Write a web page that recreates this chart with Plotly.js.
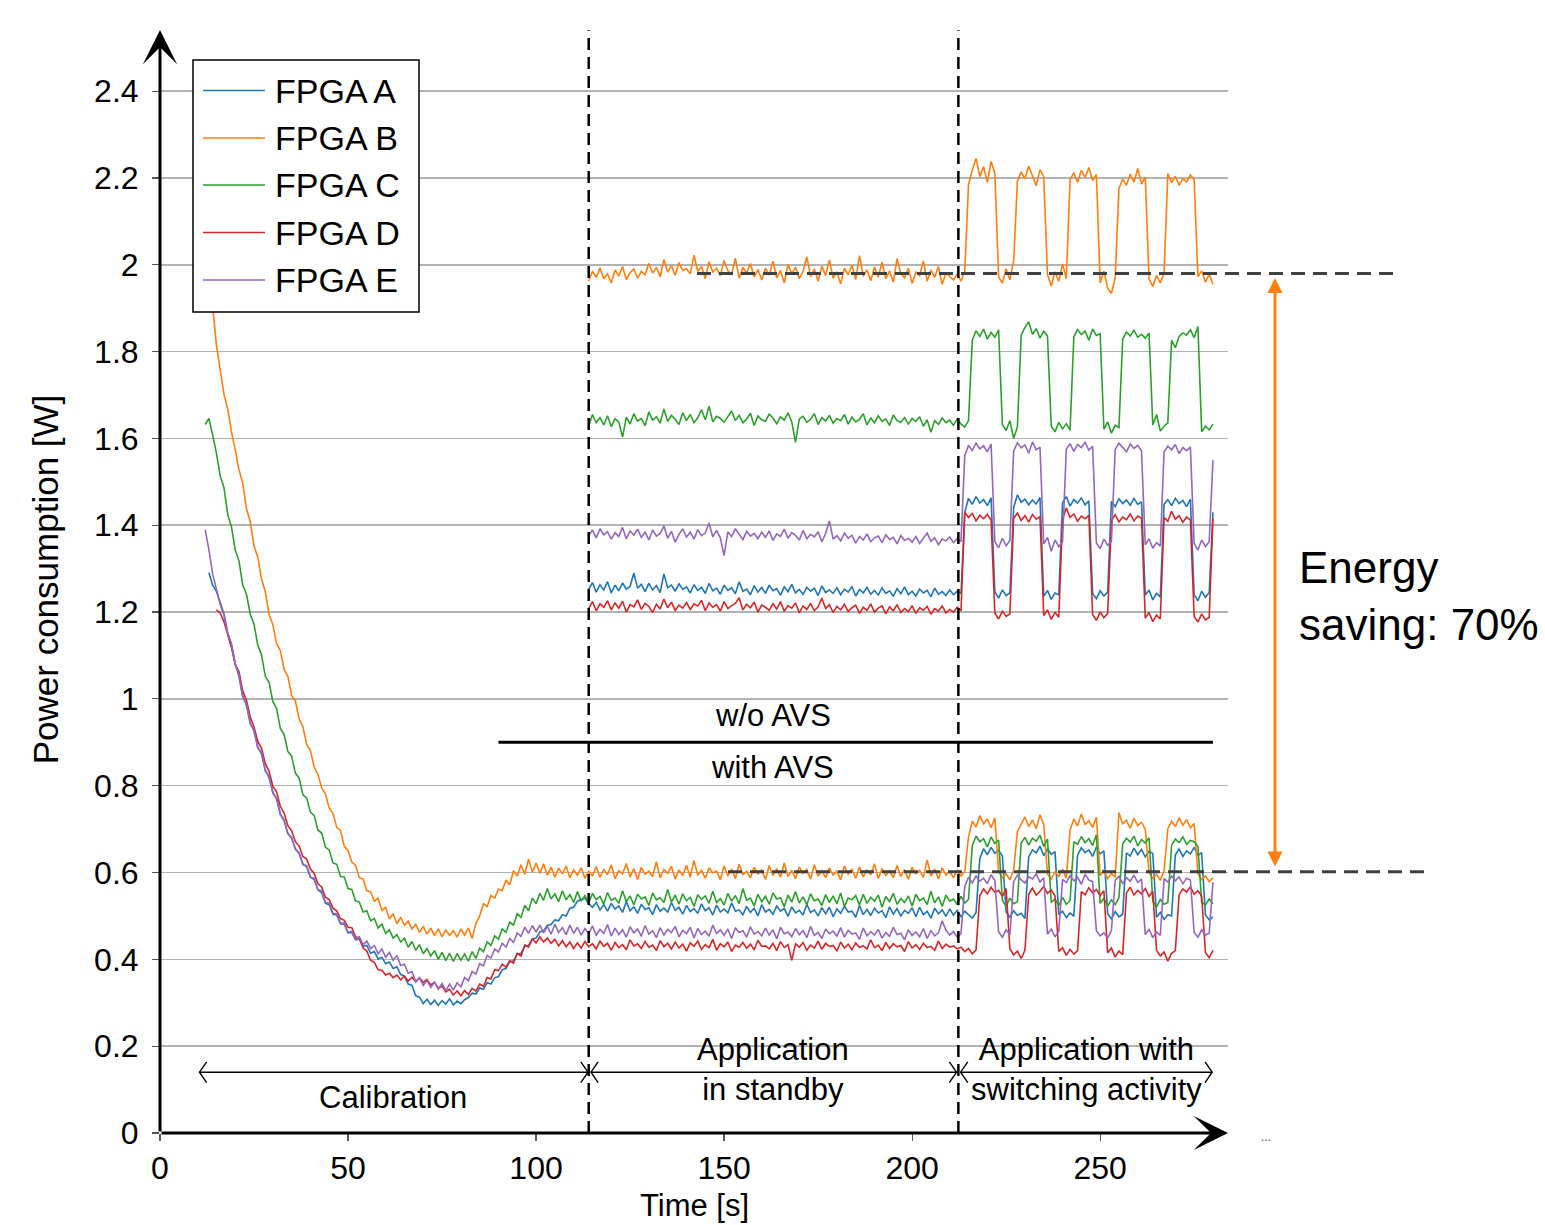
<!DOCTYPE html>
<html><head><meta charset="utf-8">
<script src="https://cdn.plot.ly/plotly-3.0.1.min.js"></script>
<style>html,body{margin:0;padding:0;background:#fff}</style>
</head><body>
<div id="chart" style="width:1545px;height:1225px"></div>
<script>
// ---------------- DATA ----------------
const seriesNames = ['FPGA A', 'FPGA B', 'FPGA C', 'FPGA D', 'FPGA E'];
const seriesColors = ['#1f77b4', '#ff7f0e', '#2ca02c', '#d62728', '#9467bd'];
// first time stamp [s] of each "with AVS" record (1 s sampling)
const withAvsStart = [13, 12, 12, 15, 12];
// first time stamp [s] of the "w/o AVS" records (1 s sampling)
const withoutAvsStart = 114;

const withAvsA = [1.291,1.262,1.248,1.221,1.196,1.152,1.124,1.081,
1.052,1.006,0.985,0.944,0.926,0.889,0.873,0.836,0.818,0.786,
0.769,0.735,0.719,0.69,0.679,0.655,0.644,0.62,0.613,0.59,
0.584,0.56,0.553,0.529,0.526,0.504,0.502,0.482,0.481,0.461,
0.462,0.445,0.447,0.43,0.432,0.414,0.418,0.401,0.405,0.39,
0.394,0.379,0.383,0.365,0.362,0.343,0.34,0.316,0.313,0.298,
0.308,0.296,0.306,0.294,0.305,0.297,0.309,0.295,0.304,0.298,
0.307,0.312,0.322,0.32,0.334,0.331,0.346,0.343,0.358,0.36,
0.376,0.379,0.394,0.397,0.412,0.414,0.43,0.432,0.447,0.449,
0.463,0.466,0.478,0.48,0.491,0.489,0.503,0.5,0.518,0.52,
0.534,0.538,0.541,0.528,0.52,0.531,0.514,0.526,0.511,0.529,
0.516,0.523,0.508,0.533,0.512,0.521,0.506,0.527,0.515,0.519,
0.503,0.526,0.511,0.518,0.509,0.531,0.513,0.52,0.504,0.524,
0.51,0.517,0.506,0.528,0.512,0.519,0.502,0.525,0.509,0.516,
0.507,0.53,0.511,0.514,0.503,0.522,0.508,0.518,0.5,0.526,
0.509,0.515,0.504,0.523,0.511,0.517,0.499,0.521,0.507,0.513,
0.502,0.527,0.508,0.514,0.5,0.519,0.505,0.52,0.498,0.516,
0.506,0.522,0.509,0.511,0.497,0.524,0.503,0.515,0.501,0.518,
0.507,0.512,0.496,0.521,0.504,0.517,0.5,0.513,0.506,0.519,
0.498,0.52,0.503,0.511,0.495,0.518,0.505,0.514,0.499,0.516,
0.502,0.513,
0.498,0.511,0.504,0.495,0.508,
0.632,0.655,0.641,0.658,0.644,0.651,0.638,
0.509,0.497,0.512,0.501,0.506,0.494,
0.636,0.652,0.645,0.661,0.639,0.654,0.642,0.648,
0.503,0.511,0.496,0.507,0.499,
0.64,0.657,0.646,0.652,0.637,0.659,0.643,0.65,
0.505,0.493,0.51,0.498,0.504,
0.645,0.638,0.656,0.641,0.653,0.636,0.649,0.644,
0.497,0.508,0.492,0.503,0.5,
0.641,0.654,0.637,0.65,0.643,0.658,0.639,0.646,
0.502,0.491,0.498];

const withAvsB = [2.0,1.948,1.905,1.815,1.758,1.702,1.668,1.615,1.574,
1.528,1.497,1.438,1.408,1.352,1.327,1.276,1.247,1.195,1.171,
1.128,1.111,1.068,1.052,1.008,0.995,0.954,0.936,0.895,0.881,
0.843,0.826,0.795,0.781,0.749,0.736,0.704,0.697,0.66,0.651,
0.624,0.617,0.588,0.585,0.558,0.556,0.534,0.541,0.513,0.52,
0.493,0.505,0.482,0.497,0.479,0.488,0.47,0.481,0.462,0.476,
0.458,0.472,0.455,0.47,0.452,0.468,0.455,0.466,0.451,0.47,
0.456,0.472,0.448,0.483,0.5,0.528,0.522,0.547,0.541,0.562,
0.558,0.583,0.572,0.604,0.592,0.618,0.596,0.631,0.601,0.622,
0.598,0.62,0.594,0.612,0.589,0.61,0.597,0.615,0.588,0.606,
0.594,0.611,0.587,0.603,0.592,0.614,0.589,0.607,0.595,0.618,
0.586,0.604,0.597,0.621,0.59,0.609,0.584,0.612,0.596,0.603,
0.591,0.625,0.588,0.607,0.598,0.614,0.585,0.606,0.593,0.617,
0.589,0.628,0.594,0.605,0.587,0.611,0.599,0.604,0.583,0.615,
0.592,0.608,0.586,0.619,0.595,0.603,0.588,0.612,0.597,0.606,
0.584,0.616,0.593,0.609,0.589,0.622,0.591,0.605,0.586,0.613,
0.598,0.607,0.585,0.618,0.592,0.604,0.588,0.611,0.594,0.603,
0.583,0.615,0.596,0.608,0.587,0.613,0.59,0.606,0.595,0.62,
0.586,0.609,0.593,0.604,0.588,0.616,0.591,0.607,0.584,0.612,
0.597,0.605,0.589,0.629,0.592,0.608,0.585,0.611,0.594,0.603,
0.588,0.606,
0.592,0.603,
0.682,0.718,0.705,0.731,0.712,0.724,0.703,0.726,
0.602,0.588,0.597,0.583,0.606,
0.694,0.712,0.728,0.706,0.721,0.701,0.733,0.71,
0.596,0.585,0.603,0.59,0.608,0.587,
0.698,0.723,0.707,0.735,0.711,0.719,0.704,0.727,
0.593,0.605,0.586,0.598,0.589,
0.738,0.712,0.72,0.702,0.725,0.708,0.716,0.7,
0.6,0.587,0.596,0.582,0.604,
0.701,0.718,0.706,0.726,0.709,0.722,0.703,0.713,
0.597,0.584,0.592,0.579,0.588];

const withAvsC = [1.632,1.646,1.608,1.566,1.514,1.487,1.425,1.396,1.343,
1.318,1.262,1.241,1.195,1.172,1.124,1.101,1.052,1.038,0.994,
0.978,0.932,0.918,0.879,0.868,0.829,0.818,0.779,0.772,0.739,
0.731,0.698,0.691,0.658,0.652,0.622,0.619,0.591,0.59,0.563,
0.561,0.535,0.532,0.509,0.512,0.489,0.494,0.472,0.481,0.46,
0.468,0.449,0.457,0.44,0.449,0.428,0.441,0.421,0.434,0.413,
0.425,0.408,0.42,0.4,0.416,0.397,0.414,0.395,0.413,0.398,
0.412,0.396,0.418,0.402,0.426,0.418,0.44,0.432,0.454,0.446,
0.47,0.462,0.486,0.479,0.505,0.497,0.524,0.512,0.541,0.528,
0.552,0.536,0.563,0.539,0.551,0.533,0.558,0.537,0.549,0.531,
0.556,0.534,0.547,0.53,0.552,0.538,0.545,0.527,0.554,0.536,
0.541,0.529,0.558,0.533,0.546,0.526,0.55,0.539,0.544,0.524,
0.553,0.537,0.542,0.531,0.561,0.532,0.548,0.527,0.551,0.535,
0.543,0.522,0.549,0.538,0.546,0.529,0.557,0.531,0.54,0.525,
0.552,0.534,0.547,0.528,0.563,0.536,0.541,0.523,0.55,0.533,
0.545,0.527,0.553,0.539,0.542,0.521,0.548,0.532,0.556,0.53,
0.544,0.526,0.551,0.535,0.539,0.524,0.549,0.531,0.546,0.528,
0.553,0.522,0.541,0.537,0.547,0.525,0.55,0.529,0.543,0.534,
0.548,0.52,0.545,0.533,0.552,0.527,0.54,0.531,0.546,0.523,
0.55,0.535,0.541,0.526,0.557,0.53,0.544,0.522,0.548,0.534,
0.539,0.527,
0.545,0.53,0.538,
0.662,0.684,0.671,0.678,0.659,0.682,0.667,0.675,
0.536,0.522,0.541,0.528,0.533,
0.668,0.681,0.663,0.679,0.672,0.686,0.66,0.677,
0.531,0.539,0.524,0.543,0.527,0.535,
0.671,0.665,0.683,0.669,0.678,0.662,0.687,
0.529,0.54,0.523,0.537,0.526,0.542,
0.666,0.679,0.67,0.684,0.661,0.676,0.668,0.68,
0.534,0.521,0.538,0.527,0.531,
0.663,0.677,0.669,0.682,0.665,0.674,0.671,0.66,
0.532,0.525,0.539,0.528];

const withAvsD = [1.205,1.198,1.178,1.147,1.118,1.079,
1.063,1.018,0.997,0.958,0.936,0.902,0.886,0.851,0.833,0.799,
0.786,0.752,0.737,0.708,0.696,0.671,0.661,0.637,0.631,0.608,
0.598,0.574,0.567,0.543,0.538,0.518,0.512,0.494,0.49,0.474,
0.473,0.452,0.449,0.426,0.419,0.398,0.393,0.376,0.375,0.364,
0.368,0.358,0.364,0.353,0.361,0.35,0.359,0.348,0.357,0.347,
0.354,0.341,0.347,0.334,0.338,0.325,0.331,0.318,0.327,0.316,
0.328,0.319,0.333,0.327,0.343,0.338,0.358,0.355,0.376,0.374,
0.389,0.382,0.397,0.391,0.414,0.408,0.433,0.428,0.447,0.438,
0.452,0.44,0.449,0.437,0.446,0.431,0.443,0.429,0.44,0.425,
0.438,0.426,0.441,0.429,0.436,0.424,0.442,0.43,0.437,0.421,
0.439,0.427,0.434,0.422,0.445,0.431,0.436,0.425,0.441,0.428,
0.433,0.42,0.443,0.429,0.437,0.424,0.44,0.426,0.435,0.419,
0.438,0.43,0.442,0.423,0.434,0.427,0.446,0.421,0.436,0.429,
0.44,0.418,0.433,0.428,0.439,0.425,0.435,0.422,0.444,0.43,
0.431,0.424,0.437,0.42,0.441,0.427,0.434,0.398,0.436,0.428,
0.439,0.421,0.433,0.426,0.442,0.423,0.437,0.43,0.432,0.419,
0.44,0.426,0.435,0.422,0.438,0.428,0.431,0.424,0.445,0.427,
0.433,0.42,0.439,0.425,0.436,0.429,0.432,0.418,0.441,0.426,
0.434,0.423,0.437,0.427,0.43,0.421,0.442,0.425,0.435,0.428,
0.431,0.424,
0.428,0.418,0.425,0.413,0.422,
0.547,0.562,0.551,0.566,0.554,0.559,0.545,0.563,
0.424,0.41,0.419,0.402,0.421,
0.55,0.564,0.548,0.557,0.568,0.552,0.56,0.546,
0.418,0.427,0.409,0.423,0.412,0.42,
0.556,0.549,0.565,0.553,0.561,0.547,0.558,
0.415,0.426,0.405,0.419,0.411,
0.553,0.566,0.548,0.559,0.551,0.563,0.545,0.557,
0.421,0.408,0.417,0.396,0.414,0.42,
0.549,0.562,0.555,0.567,0.55,0.558,0.546,
0.416,0.404,0.421];

const withAvsE = [1.39,1.344,1.288,1.256,1.218,1.193,1.151,1.127,1.081,
1.055,1.004,0.988,0.943,0.928,0.887,0.877,0.834,0.821,0.783,
0.771,0.733,0.722,0.689,0.681,0.653,0.646,0.618,0.616,0.589,
0.587,0.56,0.558,0.531,0.53,0.506,0.505,0.483,0.484,0.462,
0.465,0.446,0.452,0.434,0.442,0.425,0.432,0.413,0.424,0.405,
0.416,0.398,0.409,0.386,0.389,0.368,0.372,0.349,0.358,0.34,
0.352,0.335,0.347,0.331,0.344,0.328,0.343,0.329,0.346,0.337,
0.358,0.351,0.372,0.366,0.39,0.385,0.409,0.403,0.424,0.417,
0.437,0.428,0.448,0.439,0.461,0.453,0.474,0.46,0.478,0.463,
0.479,0.461,0.476,0.458,0.481,0.462,0.473,0.457,0.479,0.46,
0.474,0.456,0.471,0.459,0.477,0.455,0.469,0.46,0.48,0.454,
0.472,0.457,0.468,0.451,0.475,0.461,0.47,0.453,0.478,0.458,
0.466,0.45,0.473,0.456,0.469,0.462,0.476,0.452,0.467,0.459,
0.474,0.449,0.471,0.457,0.465,0.453,0.479,0.46,0.468,0.455,
0.47,0.448,0.473,0.462,0.466,0.451,0.475,0.458,0.464,0.454,
0.472,0.456,0.468,0.447,0.474,0.459,0.463,0.452,0.471,0.457,
0.466,0.45,0.476,0.455,0.462,0.448,0.47,0.459,0.465,0.453,
0.473,0.451,0.467,0.458,0.461,0.446,0.472,0.454,0.464,0.456,
0.469,0.449,0.462,0.453,0.474,0.457,0.46,0.445,0.468,0.455,
0.463,0.452,0.471,0.448,0.466,0.454,0.461,0.489,0.467,0.456,
0.464,0.451,
0.459,
0.568,0.589,0.576,0.592,0.58,0.587,0.574,0.595,0.582,
0.463,0.451,0.468,0.456,
0.579,0.594,0.583,0.576,0.59,0.585,0.597,0.578,0.588,
0.458,0.47,0.452,0.465,
0.584,0.577,0.593,0.581,0.589,0.573,0.596,0.583,0.579,
0.466,0.454,0.461,0.449,0.467,
0.582,0.591,0.575,0.588,0.58,0.594,0.577,0.585,
0.457,0.469,0.45,0.463,0.455,
0.586,0.578,0.592,0.581,0.59,0.574,0.587,0.583,
0.462,0.451,0.468,0.456,0.46,
0.578];

const withoutAvsA = [1.252,1.268,1.246,1.263,1.251,1.27,1.244,
1.262,1.249,1.267,1.253,1.259,1.29,1.255,1.264,1.247,1.266,
1.251,1.261,1.245,1.288,1.256,1.262,1.248,1.265,1.252,1.258,
1.244,1.263,1.25,1.257,1.243,1.266,1.249,1.255,1.241,1.262,
1.25,1.256,1.242,1.27,1.248,1.253,1.24,1.261,1.246,1.257,
1.243,1.262,1.249,1.254,1.239,1.258,1.247,1.264,1.244,1.252,
1.241,1.257,1.248,1.255,1.238,1.26,1.245,1.251,1.243,1.256,
1.24,1.253,1.246,1.259,1.237,1.252,1.244,1.257,1.241,1.25,
1.239,1.256,1.243,1.249,1.236,1.254,1.242,1.258,1.24,1.248,
1.237,1.253,1.244,1.25,1.235,1.255,1.241,1.247,1.238,1.251,
1.24,1.248,1.243,
1.43,1.462,1.448,1.466,1.451,1.459,1.445,1.463,
1.247,1.232,1.251,1.238,1.245,
1.441,1.47,1.453,1.46,1.447,1.458,1.449,1.464,
1.236,1.25,1.229,1.244,1.24,
1.452,1.466,1.444,1.459,1.451,1.463,1.447,1.456,
1.243,1.231,1.249,1.237,1.246,
1.455,1.443,1.461,1.45,1.458,1.446,1.462,1.448,1.454,
1.239,1.251,1.228,1.243,1.235,
1.448,1.459,1.445,1.462,1.45,1.457,1.443,1.46,
1.24,1.226,1.248,1.234,1.245,
1.43];

const withoutAvsB = [1.962,1.985,1.971,1.993,1.968,1.979,1.958,
1.988,1.974,1.996,1.966,1.982,1.99,1.969,1.985,1.977,2.003,
1.981,1.994,1.972,2.012,1.983,1.998,1.976,2.005,1.987,1.991,
1.979,2.022,1.985,1.996,1.968,2.007,1.983,1.992,1.975,2.01,
1.986,1.978,2.015,1.969,1.994,1.981,2.003,1.972,1.989,1.965,
1.992,1.976,2.008,1.97,1.987,1.958,2.001,1.979,1.994,1.968,
1.985,2.018,1.973,1.99,1.962,1.997,1.975,2.011,1.969,1.984,
1.956,1.992,1.977,1.999,1.966,2.021,1.974,1.988,1.963,1.995,
1.971,2.006,1.968,1.986,1.96,2.014,1.979,1.97,1.992,1.957,
1.983,1.975,2.009,1.962,1.988,1.971,1.996,1.955,1.981,1.973,
1.965,1.979,1.962,1.984,
2.185,2.218,2.245,2.203,2.226,2.19,2.238,2.211,
1.972,1.958,1.991,1.965,2.01,
2.192,2.214,2.198,2.227,2.205,2.182,2.219,2.203,
1.978,1.951,1.984,1.962,2.002,1.968,
2.196,2.212,2.19,2.218,2.201,2.224,2.194,2.208,
1.958,1.985,1.946,1.934,1.97,
2.176,2.197,2.183,2.209,2.19,2.222,2.186,2.202,
1.967,1.95,1.975,1.958,1.981,
2.21,2.189,2.204,2.183,2.198,2.191,2.207,2.195,
1.973,1.986,1.96,1.978,1.955];

const withoutAvsC = [1.628,1.655,1.636,1.648,1.631,1.652,1.627,
1.645,1.638,1.603,1.649,1.633,1.657,1.64,1.646,1.629,1.661,
1.642,1.65,1.635,1.668,1.639,1.653,1.644,1.632,1.659,1.641,
1.655,1.636,1.648,1.666,1.643,1.674,1.638,1.651,1.646,1.637,
1.649,1.663,1.641,1.653,1.636,1.645,1.658,1.63,1.652,1.643,
1.639,1.656,1.647,1.634,1.65,1.642,1.659,1.638,1.591,1.645,
1.651,1.637,1.644,1.657,1.632,1.648,1.64,1.653,1.635,1.646,
1.641,1.655,1.633,1.649,1.638,1.644,1.657,1.631,1.647,1.636,
1.652,1.639,1.645,1.63,1.654,1.641,1.637,1.648,1.633,1.646,
1.639,1.65,1.628,1.643,1.614,1.641,1.632,1.647,1.636,1.642,
1.63,1.645,1.633,1.626,1.641,
1.826,1.848,1.835,1.852,1.829,1.844,1.833,1.85,
1.632,1.618,1.641,1.6,1.627,
1.838,1.856,1.869,1.84,1.853,1.831,1.847,1.836,
1.628,1.615,1.637,1.622,1.634,1.619,
1.834,1.851,1.839,1.847,1.826,1.852,1.837,1.841,
1.621,1.638,1.612,1.63,1.625,
1.829,1.845,1.836,1.849,1.833,1.84,1.831,1.843,
1.631,1.655,1.617,1.628,1.636,
1.826,1.809,1.835,1.843,1.838,1.85,1.832,1.858,
1.615,1.628,1.62,1.633];

const withoutAvsD = [1.208,1.224,1.203,1.219,1.211,1.226,1.205,
1.221,1.209,1.225,1.2,1.217,1.212,1.228,1.206,1.22,1.213,
1.199,1.218,1.207,1.23,1.21,1.223,1.204,1.216,1.209,1.222,
1.206,1.219,1.214,1.227,1.203,1.221,1.211,1.217,1.202,1.224,
1.208,1.215,1.22,1.233,1.205,1.218,1.21,1.223,1.2,1.216,
1.211,1.204,1.219,1.207,1.224,1.202,1.215,1.209,1.221,1.198,
1.214,1.206,1.22,1.203,1.212,1.232,1.208,1.217,1.199,1.213,
1.205,1.218,1.201,1.21,1.216,1.197,1.211,1.204,1.219,1.2,
1.209,1.214,1.196,1.212,1.203,1.217,1.199,1.208,1.201,1.215,
1.197,1.21,1.204,1.213,1.195,1.208,1.202,1.214,1.198,1.206,
1.2,1.211,1.203,
1.43,1.418,1.427,1.41,1.423,1.415,1.425,1.412,
1.198,1.184,1.202,1.19,1.196,
1.416,1.428,1.411,1.422,1.407,1.425,1.414,1.42,
1.192,1.205,1.183,1.199,1.188,
1.413,1.44,1.418,1.426,1.409,1.421,1.415,1.423,
1.194,1.181,1.2,1.187,1.197,
1.411,1.424,1.408,1.419,1.413,1.426,1.41,1.421,1.416,
1.186,1.199,1.178,1.193,1.184,
1.418,1.409,1.432,1.414,1.422,1.407,1.419,1.412,
1.19,1.177,1.196,1.182,1.188,
1.415];

const withoutAvsE = [1.376,1.389,1.371,1.392,1.378,1.385,1.368,
1.383,1.374,1.395,1.369,1.387,1.377,1.391,1.372,1.384,1.366,
1.389,1.375,1.381,1.398,1.37,1.386,1.361,1.379,1.392,1.373,
1.384,1.368,1.39,1.376,1.382,1.405,1.373,1.388,1.371,1.33,
1.385,1.374,1.392,1.379,1.367,1.386,1.375,1.381,1.369,1.384,
1.372,1.387,1.365,1.38,1.374,1.391,1.37,1.383,1.377,1.366,
1.388,1.369,1.379,1.373,1.385,1.362,1.381,1.41,1.368,1.376,
1.364,1.382,1.37,1.377,1.359,1.374,1.366,1.38,1.362,1.371,
1.375,1.36,1.378,1.367,1.372,1.357,1.376,1.365,1.37,1.361,
1.374,1.358,1.369,1.382,1.363,1.371,1.355,1.368,1.364,1.373,
1.36,1.369,1.362,
1.56,1.584,1.572,1.589,1.576,1.583,1.569,1.587,
1.362,1.348,1.37,1.353,1.365,
1.571,1.59,1.578,1.585,1.566,1.592,1.574,1.58,
1.357,1.372,1.34,1.366,1.351,1.362,
1.575,1.588,1.57,1.586,1.579,1.591,1.573,1.582,
1.359,1.346,1.368,1.354,1.363,
1.574,1.589,1.58,1.569,1.587,1.577,1.584,1.571,
1.355,1.369,1.347,1.36,1.352,
1.569,1.582,1.574,1.586,1.565,1.579,1.572,1.58,
1.358,1.343,1.366,1.351,1.362,
1.55];

const xTickValues = [0, 50, 100, 150, 200, 250];
const yTickValues = [0, 0.2, 0.4, 0.6, 0.8, 1, 1.2, 1.4, 1.6, 1.8, 2, 2.2, 2.4];
const phaseBoundaries = [114, 212.3];
const phaseLabels = ['Calibration', 'Application<br>in standby', 'Application with<br>switching activity'];
const avsLabels = ['w/o AVS', 'with AVS'];
const avsLevels = [1.98, 0.6];           // reference levels of the saving arrow
const savingLabel = 'Energy<br>saving: 70%';
const xTitle = 'Time [s]';
const yTitle = 'Power consumption [W]';

// ---------------- CHART ----------------
const FONT = 'Liberation Sans, Arial, Helvetica, sans-serif';
const withAvs = [withAvsA, withAvsB, withAvsC, withAvsD, withAvsE];
const withoutAvs = [withoutAvsA, withoutAvsB, withoutAvsC, withoutAvsD, withoutAvsE];

function timeAxis(t0, n) { const t = []; for (let i = 0; i < n; i++) t.push(t0 + i); return t; }

const traces = [];
seriesNames.forEach((name, i) => {
  traces.push({
    type: 'scatter', mode: 'lines', name: name, legendgroup: name, showlegend: false,
    x: timeAxis(withAvsStart[i], withAvs[i].length), y: withAvs[i],
    line: {color: seriesColors[i], width: 1.6}
  });
  traces.push({
    type: 'scatter', mode: 'lines', name: name + ' (w/o AVS)', legendgroup: name, showlegend: false,
    x: timeAxis(withoutAvsStart, withoutAvs[i].length), y: withoutAvs[i],
    line: {color: seriesColors[i], width: 1.6}
  });
});

// plot-area geometry (px) used for paper-referenced decorations
const L = 160, R = 1228, T = 26, B = 1133;
const X_MAX = 284, Y_MAX = 2.55;
const pX = px => (px - L) / (R - L);
const pY = py => (B - py) / (B - T);
const yP = v => v / Y_MAX;

const shapes = [];
const annotations = [];

// phase separators (dashed verticals)
phaseBoundaries.forEach(xb => shapes.push({type: 'line', xref: 'x', yref: 'y', x0: xb, x1: xb, y0: 0, y1: 2.54,
  line: {color: '#000', width: 2.5, dash: '12px,7px'}, layer: 'above'}));
// w/o AVS / with AVS separator
shapes.push({type: 'line', xref: 'x', yref: 'y', x0: 90, x1: 280, y0: 0.9, y1: 0.9, line: {color: '#000', width: 3}, layer: 'above'});
// grey dashed reference levels
shapes.push({type: 'line', xref: 'paper', yref: 'paper', x0: pX(697), x1: pX(1398), y0: yP(avsLevels[0]), y1: yP(avsLevels[0]),
  line: {color: '#404040', width: 3, dash: '14px,8px'}, layer: 'above'});
shapes.push({type: 'line', xref: 'paper', yref: 'paper', x0: pX(728), x1: pX(1428), y0: yP(avsLevels[1] + 0.002), y1: yP(avsLevels[1] + 0.002),
  line: {color: '#404040', width: 3, dash: '14px,8px'}, layer: 'above'});

// phase double arrows
const phaseSpans = [[10.5, 113.8], [114.6, 211.8], [212.9, 279.8]];
const arrowY = 0.14, chevDx = 1.9, chevDy = 0.024;
phaseSpans.forEach(([a, b]) => {
  shapes.push({type: 'line', xref: 'x', yref: 'y', x0: a, x1: b, y0: arrowY, y1: arrowY, line: {color: '#000', width: 1.4}, layer: 'above'});
  shapes.push({type: 'path', xref: 'x', yref: 'y', layer: 'above', line: {color: '#000', width: 1.4},
    path: `M${a + chevDx},${arrowY + chevDy} L${a},${arrowY} L${a + chevDx},${arrowY - chevDy}`});
  shapes.push({type: 'path', xref: 'x', yref: 'y', layer: 'above', line: {color: '#000', width: 1.4},
    path: `M${b - chevDx},${arrowY + chevDy} L${b},${arrowY} L${b - chevDx},${arrowY - chevDy}`});
});

// custom legend (long line samples as in the reference)
shapes.push({type: 'rect', xref: 'paper', yref: 'paper', x0: pX(193), x1: pX(419), y0: pY(312), y1: pY(60),
  fillcolor: '#fff', line: {color: '#000', width: 1.5}, layer: 'above'});
const legendRows = [90.5, 138, 185, 232.5, 280];
seriesNames.forEach((name, i) => {
  shapes.push({type: 'line', xref: 'paper', yref: 'paper', x0: pX(203), x1: pX(265), y0: pY(legendRows[i]), y1: pY(legendRows[i]),
    line: {color: seriesColors[i], width: 1.6}, layer: 'above'});
  annotations.push({xref: 'paper', yref: 'paper', x: pX(273), y: pY(legendRows[i]), xanchor: 'left', yanchor: 'middle',
    text: name, showarrow: false, font: {family: FONT, size: 34, color: '#000'}});
});

// axis lines with arrow heads
annotations.push({xref: 'paper', yref: 'paper', x: 1, y: 0, ax: -(R - L), ay: 0, text: '', showarrow: true,
  arrowhead: 3, arrowsize: 1.9, arrowwidth: 3, arrowcolor: '#000'});
annotations.push({xref: 'paper', yref: 'paper', x: 0, y: pY(30), ax: 0, ay: B - 30, text: '', showarrow: true,
  arrowhead: 3, arrowsize: 1.9, arrowwidth: 3, arrowcolor: '#000'});

// x-axis title, kept fully inside the page
annotations.push({xref: 'paper', yref: 'paper', x: 0.5, y: pY(1205), xanchor: 'center', yanchor: 'middle',
  text: xTitle, showarrow: false, font: {family: FONT, size: 31, color: '#000'}});

// texts
annotations.push({xref: 'x', yref: 'y', x: 62, y: 0.081, text: phaseLabels[0], showarrow: false, font: {family: FONT, size: 31, color: '#000'}});
annotations.push({xref: 'x', yref: 'y', x: 163, y: 0.147, text: phaseLabels[1], showarrow: false, font: {family: FONT, size: 31, color: '#000'}});
annotations.push({xref: 'x', yref: 'y', x: 246.5, y: 0.147, text: phaseLabels[2], showarrow: false, font: {family: FONT, size: 31, color: '#000'}});
annotations.push({xref: 'x', yref: 'y', x: 163, y: 0.961, text: avsLabels[0], showarrow: false, font: {family: FONT, size: 31, color: '#000'}});
annotations.push({xref: 'x', yref: 'y', x: 163, y: 0.841, text: avsLabels[1], showarrow: false, font: {family: FONT, size: 31, color: '#000'}});
annotations.push({xref: 'paper', yref: 'paper', x: pX(1297), y: pY(596), xanchor: 'left', yanchor: 'middle', align: 'left',
  text: savingLabel, showarrow: false, font: {family: FONT, size: 44, color: '#000'}});
// energy saving arrow
annotations.push({xref: 'paper', yref: 'paper', x: pX(1275), y: yP(avsLevels[0]) - 0.004, ax: 0,
  ay: (avsLevels[0] - avsLevels[1]) / Y_MAX * (B - T) - 9, text: '', showarrow: true,
  arrowside: 'end+start', arrowhead: 2, startarrowhead: 2, arrowsize: 1, startarrowsize: 1, arrowwidth: 3, arrowcolor: '#ff7f0e'});
annotations.push({xref: 'paper', yref: 'paper', x: pX(1273), y: pY(1146), text: '...', showarrow: false,
  font: {family: FONT, size: 12, color: '#444'}});

const layout = {
  width: 1545, height: 1225,
  margin: {l: L, r: 1545 - R, t: T, b: 1225 - B, pad: 0},
  paper_bgcolor: '#fff', plot_bgcolor: '#fff',
  showlegend: false,
  font: {family: FONT, size: 32, color: '#000'},
  xaxis: {
    range: [0, X_MAX], tickvals: xTickValues, showgrid: false, zeroline: false, showline: false,
    ticks: 'outside', ticklen: 7, tickwidth: 1.2, tickcolor: '#555',
    tickfont: {family: FONT, size: 32, color: '#000'}, ticklabelstandoff: 0,
    automargin: false
  },
  yaxis: {
    range: [0, Y_MAX], tickvals: yTickValues, showgrid: true, gridcolor: '#b3b3b3', gridwidth: 1.5,
    zeroline: false, showline: false,
    ticks: 'outside', ticklen: 7, tickwidth: 1.2, tickcolor: '#555',
    tickfont: {family: FONT, size: 32, color: '#000'}, ticklabelstandoff: 7,
    title: {text: yTitle, font: {family: FONT, size: 35, color: '#000'}, standoff: 24},
    automargin: false
  },
  shapes: shapes,
  annotations: annotations
};

Plotly.newPlot('chart', traces, layout, {staticPlot: true, displayModeBar: false});
</script>
</body></html>
